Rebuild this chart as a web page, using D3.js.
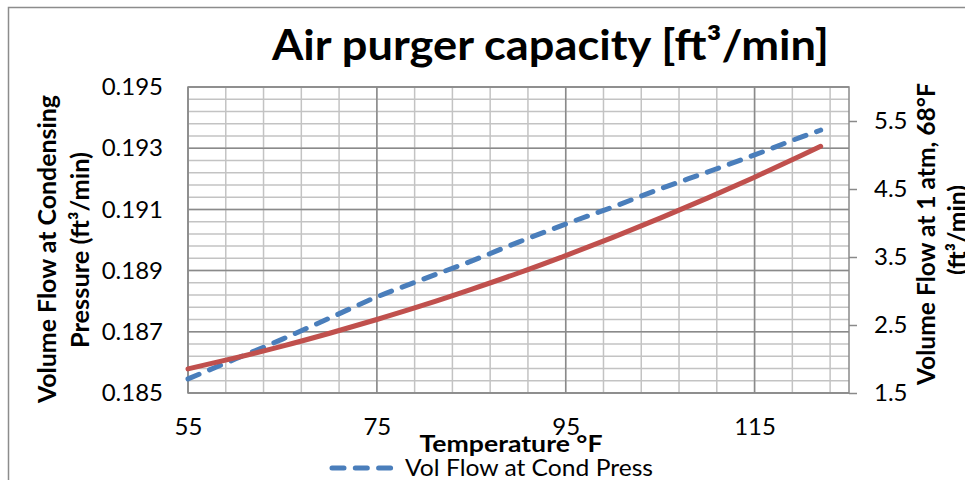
<!DOCTYPE html>
<html><head><meta charset="utf-8">
<script src="https://cdn.jsdelivr.net/npm/d3@7"></script>
<style>
body{margin:0;background:#fff}
svg{display:block}
text{font-family:Lato,'Open Sans',sans-serif;fill:#000}
</style>
</head><body>
<svg id="c" width="965" height="480"></svg>
<script>
// ---- data ----
const temps     = [55, 60, 65, 70, 75, 80, 85, 90, 95, 100, 105, 110, 115, 120, 122];
const condFlow  = [0.18546, 0.18611, 0.18676, 0.18745, 0.18814, 0.18873, 0.18931, 0.18993,
                   0.19052, 0.19108, 0.19167, 0.19222, 0.19278, 0.19337, 0.19359];
const atmFlow   = [1.854, 2.016, 2.190, 2.379, 2.581, 2.795, 3.024, 3.265,
                   3.521, 3.789, 4.071, 4.366, 4.674, 4.996, 5.128];
const xTicks     = [55, 75, 95, 115];
const leftTicks  = [0.185, 0.187, 0.189, 0.191, 0.193, 0.195];
const rightTicks = [1.5, 2.5, 3.5, 4.5, 5.5];
const seriesNames = ["Vol Flow at Cond Press", "Vol Flow at 1 atm"];

const svg = d3.select("#c");
const L = 188, R = 849, T = 87, B = 393;

const x  = d3.scaleLinear().domain([55, 125]).range([L, R]);
const yL = d3.scaleLinear().domain([0.185, 0.195]).range([B, T]);
const yR = d3.scaleLinear().domain([1.5, 6.0]).range([B, T]);

// outer chart frame
svg.append("rect").attr("x", 8.5).attr("y", 7.5).attr("width", 1000).attr("height", 600)
  .attr("fill", "#fff").attr("stroke", "#8c8c8c").attr("stroke-width", 1.5);

// grid
const g = svg.append("g");
const minorX = d3.range(55, 125.001, 4);
const minorY = d3.range(0, 26).map(i => 0.185 + i * 0.0004);
g.selectAll(".mx").data(minorX).join("line")
  .attr("x1", d => x(d)).attr("x2", d => x(d)).attr("y1", T).attr("y2", B)
  .attr("stroke", "#c3c3c3").attr("stroke-width", 1.5);
g.selectAll(".my").data(minorY).join("line")
  .attr("x1", L).attr("x2", R).attr("y1", d => yL(d)).attr("y2", d => yL(d))
  .attr("stroke", "#c3c3c3").attr("stroke-width", 1.5);
g.selectAll(".Mx").data(xTicks).join("line")
  .attr("x1", d => x(d)).attr("x2", d => x(d)).attr("y1", T).attr("y2", B)
  .attr("stroke", "#8a8a8a").attr("stroke-width", 1.5);
g.selectAll(".My").data(leftTicks).join("line")
  .attr("x1", L).attr("x2", R).attr("y1", d => yL(d)).attr("y2", d => yL(d))
  .attr("stroke", "#8a8a8a").attr("stroke-width", 1.5);
g.append("rect").attr("x", L).attr("y", T).attr("width", R - L).attr("height", B - T)
  .attr("fill", "none").attr("stroke", "#8a8a8a").attr("stroke-width", 1.5);

// axes
const fs = "24px";
const axL = svg.append("g").attr("transform", `translate(${L},0)`)
  .call(d3.axisLeft(yL).tickValues(leftTicks).tickFormat(d3.format(".3f")).tickSize(0).tickPadding(25));
const axR = svg.append("g").attr("transform", `translate(${R},0)`)
  .call(d3.axisRight(yR).tickValues(rightTicks).tickFormat(d3.format(".1f")).tickSize(8).tickPadding(17));
const axB = svg.append("g").attr("transform", `translate(0,${B})`)
  .call(d3.axisBottom(x).tickValues(xTicks).tickFormat(d3.format("d")).tickSize(0).tickPadding(25));
[axL, axR, axB].forEach(a => {
  a.select(".domain").remove();
  a.selectAll("text").style("font-size", fs).style("font-family", "Lato");
});
axR.selectAll("line").attr("stroke", "#8a8a8a").attr("stroke-width", 1.5);

// series
const ptsC = temps.map((t, i) => [x(t), yL(condFlow[i])]);
const ptsA = temps.map((t, i) => [x(t), yR(atmFlow[i])]);
const line = d3.line().curve(d3.curveMonotoneX);
svg.append("path").attr("d", line(ptsC)).attr("fill", "none")
  .attr("stroke", "#4a7ebb").attr("stroke-width", 5).attr("stroke-dasharray", "12 11.3")
  .attr("stroke-linecap", "round");
svg.append("path").attr("d", line(ptsA)).attr("fill", "none")
  .attr("stroke", "#c0504d").attr("stroke-width", 5).attr("stroke-linecap", "round");

// title
svg.append("text").attr("x", 272).attr("y", 60)
  .attr("textLength", 557).attr("lengthAdjust", "spacingAndGlyphs")
  .style("font-size", "42px").style("font-weight", "bold")
  .text("Air purger capacity [ft³/min]");

// axis titles
function vtext(cx, cy, len, str) {
  svg.append("text").attr("transform", `translate(${cx},${cy}) rotate(-90)`)
    .attr("text-anchor", "middle").attr("dy", "0.35em")
    .attr("textLength", len).attr("lengthAdjust", "spacingAndGlyphs")
    .style("font-size", "24px").style("font-weight", "bold").text(str);
}
vtext(48, 249, 308, "Volume Flow at Condensing");
vtext(81, 250, 196, "Pressure (ft³/min)");
vtext(927, 234, 302, "Volume Flow at 1 atm, 68°F");
vtext(958, 230, 90, "(ft³/min)");

svg.append("text").attr("x", 511).attr("y", 452).attr("text-anchor", "middle")
  .attr("textLength", 183).attr("lengthAdjust", "spacingAndGlyphs")
  .style("font-size", "23px").style("font-weight", "bold").text("Temperature °F");

// legend
svg.append("line").attr("x1", 332).attr("x2", 392).attr("y1", 468).attr("y2", 468)
  .attr("stroke", "#4a7ebb").attr("stroke-width", 5).attr("stroke-dasharray", "12 11.3")
  .attr("stroke-linecap", "round");
svg.append("text").attr("x", 405).attr("y", 476)
  .attr("textLength", 248).attr("lengthAdjust", "spacingAndGlyphs")
  .style("font-size", "24px").text(seriesNames[0]);
</script>
</body></html>
